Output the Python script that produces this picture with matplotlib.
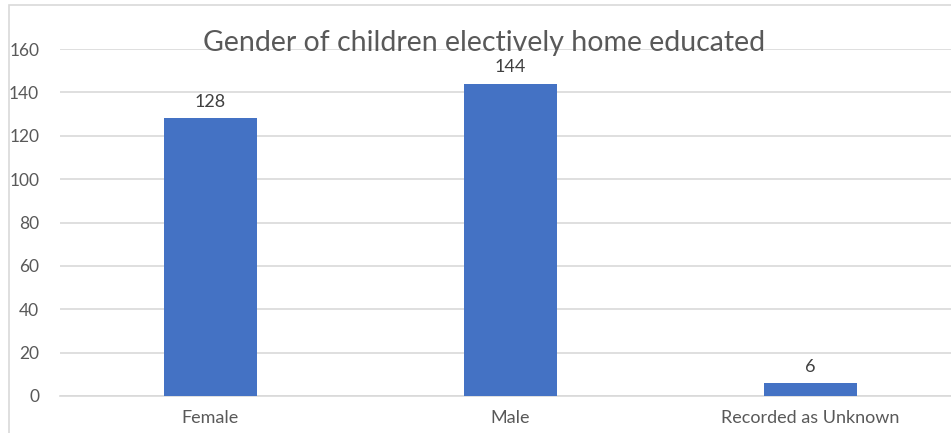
import matplotlib.pyplot as plt
from matplotlib.patches import Rectangle

categories = ["Female", "Male", "Recorded as Unknown"]
counts = [128, 144, 6]
y_ticks = [0, 20, 40, 60, 80, 100, 120, 140, 160]

plt.rcParams['font.family'] = ['Lato', 'DejaVu Sans']
text_color = "#595959"

fig = plt.figure(figsize=(9.51, 4.33), dpi=100)
# chart frame, cut off at right and bottom like the screenshot
fig.patches.append(Rectangle((9 / 951, -0.1), 1.2, 1 - 5 / 433 + 0.1,
                             transform=fig.transFigure, fill=False,
                             edgecolor="#d9d9d9", linewidth=1.2))

ax = fig.add_axes([60 / 951, 1 - 396 / 433, 900 / 951, (396 - 49) / 433])
x = range(len(categories))
bars = ax.bar(x, counts, width=0.31, color="#4472C4", zorder=3)
ax.bar_label(bars, padding=6, fontsize=13, color="#404040")

ax.set_xlim(-0.5, 2.5)
ax.set_ylim(0, 160)
ax.set_yticks(y_ticks)
ax.set_xticks(list(x))
ax.set_xticklabels(categories)
ax.tick_params(length=0, labelsize=13, labelcolor=text_color)
ax.tick_params(axis="x", pad=10)
ax.tick_params(axis="y", labelsize=12.5, pad=15)
ax.grid(axis="y", color="#d9d9d9", linewidth=1.2, zorder=0)
for s in ["top", "right", "left"]:
    ax.spines[s].set_visible(False)
ax.spines["bottom"].set_color("#d9d9d9")
ax.spines["bottom"].set_linewidth(1.2)

fig.text(484 / 951, 1 - 43 / 433, "Gender of children electively home educated",
         ha="center", va="center", fontsize=20.5, color=text_color)

fig.savefig("out.png", dpi=100)
